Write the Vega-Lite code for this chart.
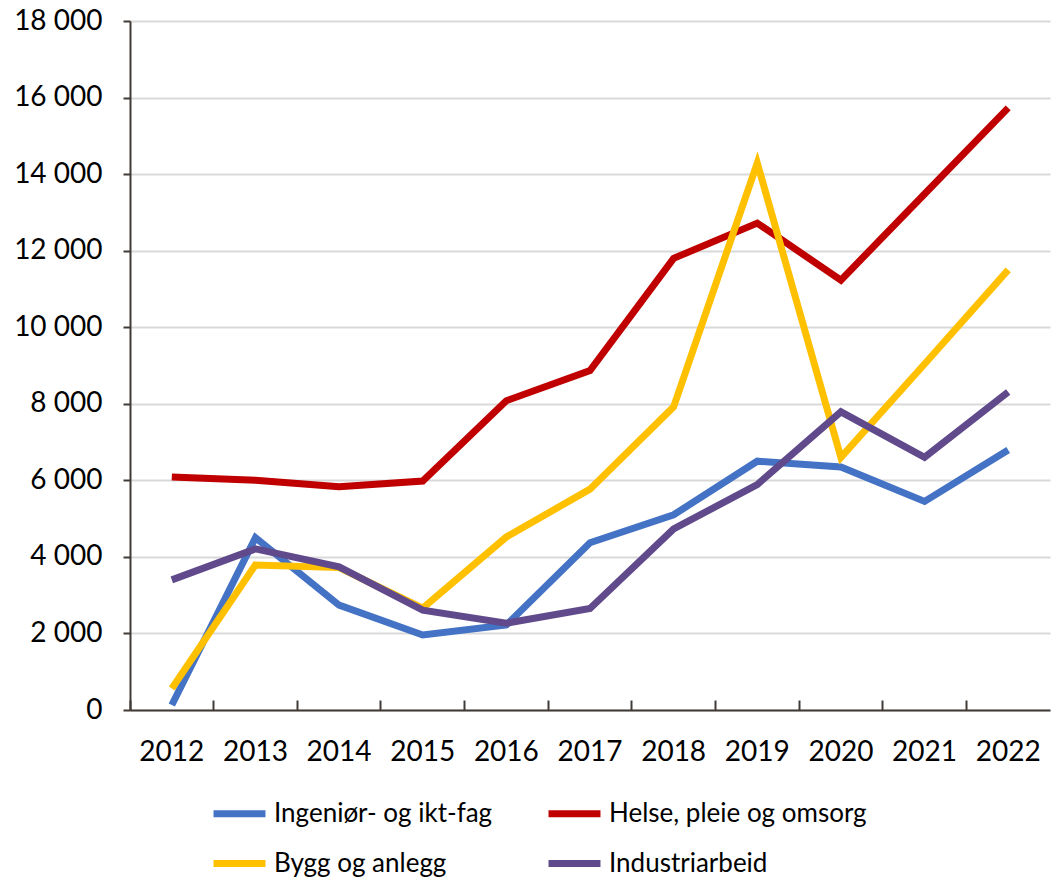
{
  "$schema": "https://vega.github.io/schema/vega-lite/v6.json",
  "width": 920,
  "height": 689,
  "autosize": {"type": "none"},
  "padding": {"left": 130, "top": 21, "right": 1, "bottom": 168},
  "background": "white",
  "config": {
    "font": "Lato",
    "view": {"stroke": null}
  },
  "data": {
    "values": [
      {"year": "2012", "serie": "Ingeniør- og ikt-fag", "verdi": 130},
      {"year": "2013", "serie": "Ingeniør- og ikt-fag", "verdi": 4500},
      {"year": "2014", "serie": "Ingeniør- og ikt-fag", "verdi": 2740},
      {"year": "2015", "serie": "Ingeniør- og ikt-fag", "verdi": 1960},
      {"year": "2016", "serie": "Ingeniør- og ikt-fag", "verdi": 2220},
      {"year": "2017", "serie": "Ingeniør- og ikt-fag", "verdi": 4370},
      {"year": "2018", "serie": "Ingeniør- og ikt-fag", "verdi": 5100},
      {"year": "2019", "serie": "Ingeniør- og ikt-fag", "verdi": 6500},
      {"year": "2020", "serie": "Ingeniør- og ikt-fag", "verdi": 6350},
      {"year": "2021", "serie": "Ingeniør- og ikt-fag", "verdi": 5450},
      {"year": "2022", "serie": "Ingeniør- og ikt-fag", "verdi": 6790},
      {"year": "2012", "serie": "Helse, pleie og omsorg", "verdi": 6090},
      {"year": "2013", "serie": "Helse, pleie og omsorg", "verdi": 6000},
      {"year": "2014", "serie": "Helse, pleie og omsorg", "verdi": 5830},
      {"year": "2015", "serie": "Helse, pleie og omsorg", "verdi": 5980},
      {"year": "2016", "serie": "Helse, pleie og omsorg", "verdi": 8080},
      {"year": "2017", "serie": "Helse, pleie og omsorg", "verdi": 8870},
      {"year": "2018", "serie": "Helse, pleie og omsorg", "verdi": 11800},
      {"year": "2019", "serie": "Helse, pleie og omsorg", "verdi": 12720},
      {"year": "2020", "serie": "Helse, pleie og omsorg", "verdi": 11230},
      {"year": "2021", "serie": "Helse, pleie og omsorg", "verdi": 13480},
      {"year": "2022", "serie": "Helse, pleie og omsorg", "verdi": 15730},
      {"year": "2012", "serie": "Bygg og anlegg", "verdi": 560},
      {"year": "2013", "serie": "Bygg og anlegg", "verdi": 3790},
      {"year": "2014", "serie": "Bygg og anlegg", "verdi": 3720},
      {"year": "2015", "serie": "Bygg og anlegg", "verdi": 2660},
      {"year": "2016", "serie": "Bygg og anlegg", "verdi": 4520},
      {"year": "2017", "serie": "Bygg og anlegg", "verdi": 5770},
      {"year": "2018", "serie": "Bygg og anlegg", "verdi": 7920},
      {"year": "2019", "serie": "Bygg og anlegg", "verdi": 14290},
      {"year": "2020", "serie": "Bygg og anlegg", "verdi": 6600},
      {"year": "2021", "serie": "Bygg og anlegg", "verdi": 9040},
      {"year": "2022", "serie": "Bygg og anlegg", "verdi": 11500},
      {"year": "2012", "serie": "Industriarbeid", "verdi": 3400},
      {"year": "2013", "serie": "Industriarbeid", "verdi": 4210},
      {"year": "2014", "serie": "Industriarbeid", "verdi": 3740},
      {"year": "2015", "serie": "Industriarbeid", "verdi": 2610},
      {"year": "2016", "serie": "Industriarbeid", "verdi": 2270},
      {"year": "2017", "serie": "Industriarbeid", "verdi": 2650},
      {"year": "2018", "serie": "Industriarbeid", "verdi": 4730},
      {"year": "2019", "serie": "Industriarbeid", "verdi": 5890},
      {"year": "2020", "serie": "Industriarbeid", "verdi": 7790},
      {"year": "2021", "serie": "Industriarbeid", "verdi": 6600},
      {"year": "2022", "serie": "Industriarbeid", "verdi": 8310}
    ]
  },
  "mark": {"type": "line", "strokeWidth": 7, "strokeCap": "butt", "strokeJoin": "miter"},
  "encoding": {
    "x": {
      "field": "year",
      "type": "ordinal",
      "scale": {"type": "band", "paddingInner": 0, "paddingOuter": 0},
      "axis": {
        "title": null,
        "labelAngle": 0,
        "labelFontSize": 28,
        "labelColor": "#000000",
        "labelBaseline": "top",
        "labelPadding": 38,
        "bandPosition": 0,
        "tickSize": -10,
        "tickWidth": 2,
        "tickColor": "#403b36",
        "domainColor": "#403b36",
        "domainWidth": 2,
        "grid": false
      }
    },
    "y": {
      "field": "verdi",
      "type": "quantitative",
      "scale": {"domain": [0, 18000], "nice": false},
      "axis": {
        "title": null,
        "values": [0, 2000, 4000, 6000, 8000, 10000, 12000, 14000, 16000, 18000],
        "labelExpr": "replace(format(datum.value, ','), /,/g, ' ')",
        "labelFontSize": 28,
        "labelColor": "#000000",
        "labelPadding": 21,
        "tickSize": 7,
        "tickWidth": 2,
        "tickColor": "#403b36",
        "domainColor": "#403b36",
        "domainWidth": 2,
        "grid": true,
        "gridColor": "#d9d9d9",
        "gridWidth": 2
      }
    },
    "color": {
      "field": "serie",
      "type": "nominal",
      "scale": {
        "domain": ["Ingeniør- og ikt-fag", "Helse, pleie og omsorg", "Bygg og anlegg", "Industriarbeid"],
        "range": ["#4472C4", "#C00000", "#FFC000", "#604A8B"]
      },
      "legend": {
        "title": null,
        "orient": "none",
        "legendX": 80,
        "legendY": 763,
        "direction": "horizontal",
        "columns": 2,
        "columnPadding": 41,
        "rowPadding": 6,
        "symbolType": "stroke",
        "symbolSize": 2700,
        "symbolStrokeWidth": 7,
        "labelFontSize": 26,
        "labelColor": "#000000",
        "labelOffset": 5,
        "labelLimit": 400
      }
    }
  }
}
